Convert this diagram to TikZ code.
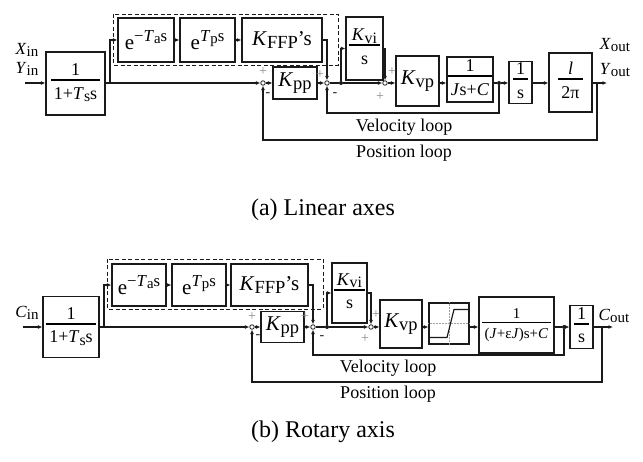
\documentclass[tikz,border=0pt]{standalone}
\usepackage{fontspec}
\setmainfont{Liberation Serif}
\usetikzlibrary{arrows.meta,calc}
\definecolor{Ink}{HTML}{1A1A1A}
\definecolor{SignGray}{HTML}{8A8A8A}
\definecolor{GridGray}{HTML}{A0A0A0}
\newcommand\subx[1]{\raisebox{-0.3ex}{\scalebox{0.88}{#1}}}
\newcommand\supx[1]{\raisebox{0.8ex}{\scalebox{0.8}{#1}}}
\newcommand\frc[2]{\begin{tabular}{@{\,}c@{\,}}#1\\[-2pt]\hline\rule{0pt}{1.0em}#2\end{tabular}}
\tikzset{
  block/.style={
    draw=Ink, line width=1.1pt, fill=white, inner sep=0pt, align=center,
    font=\fontsize{21}{23}\selectfont
  },
  ratio/.style={block, font={\fontsize{18}{19}\selectfont\setlength\arrayrulewidth{1.8pt}}},
  boxsize/.style 2 args={minimum width=#1pt, minimum height=#2pt},
  junction/.style={
    circle, draw=Ink, fill=white, line width=0.8pt,
    inner sep=0pt, minimum size=4.5pt
  },
  tap/.style={circle, fill=Ink, inner sep=0pt, minimum size=4pt},
  sig/.style={-{Latex[length=4.5pt,width=4pt]}, line width=1.1pt, draw=Ink},
  mainsig/.style={sig, line width=1.6pt},
  wire/.style={line width=1.1pt, draw=Ink},
  feedback/.style={-{Latex[length=4.5pt,width=4pt]}, line width=1.6pt, draw=Ink},
  ffbox/.style={draw=Ink, line width=0.9pt, dash pattern=on 4pt off 2.5pt},
  plus/.style={text=SignGray, font=\fontsize{14}{14}\selectfont, inner sep=0pt},
  minus/.style={text=Ink, font=\fontsize{14}{14}\selectfont, inner sep=0pt},
  looplabel/.style={font=\fontsize{18}{19}\selectfont, inner sep=0pt},
  io/.style={font=\fontsize{17}{19}\selectfont, inner sep=0pt},
  caption/.style={font=\fontsize{24}{26}\selectfont, inner sep=0pt}
}

\begin{document}
\begin{tikzpicture}[x=1pt, y=-1pt]
        \useasboundingbox (0,0) rectangle (643,462);
        % (a) linear axes
        \draw[ffbox] (113,14) rectangle (338,65);
        \node[ratio, boxsize={59}{63}] (preA) at (75.5,83.5) {\frc{1}{1+\textit{T}\subx{s}s}};
        \node[block, boxsize={56}{44}] (lagA) at (146,40) {e\supx{−\textit{T}\subx{a}s}};
        \node[block, boxsize={55}{44}] (leadA) at (207.5,40) {e\supx{\textit{T}\subx{p}s}};
        \node[block, boxsize={80}{44}] (ffpA) at (282,40) {\textit{K}\subx{FFP}'s};
        \node[block, boxsize={44}{32}] (kppA) at (295,83) {\textit{K}\subx{pp}};
        \node[ratio, boxsize={37}{63}] (kviA) at (364.5,48.5) {\frc{\textit{K}\subx{vi}}{s}};
        \node[block, boxsize={43}{50}] (kvpA) at (417.5,81) {\textit{K}\subx{vp}};
        \node[ratio, boxsize={46}{45}] (plantA) at (470,79.5) {\frc{1}{\textit{J}s+\textit{C}}};
        \node[ratio, boxsize={23}{41}] (intA) at (520.5,82.5) {\frc{1}{s}};
        \node[ratio, boxsize={43}{59}] (gearA) at (570.5,82.5) {\frc{\textit{l}}{2π}};
        \node[junction] (s1A) at (263,83) {};
        \node[junction] (s2A) at (327,83) {};
        \node[junction] (s3A) at (385,83) {};
        \node[tap] (t2A) at (341,83) {};
        \node[tap] (t3A) at (499,83) {};
        \coordinate (inA) at (25,83);
        \coordinate (brA) at (110,83);
        \coordinate (t4A) at (597,83);
        \coordinate (outA) at (607,83);
        \coordinate (velA) at (0,113);
        \coordinate (posA) at (0,140);
        \draw[sig] (inA) -- (preA.west |- inA);
        \draw[mainsig] (preA.east |- inA) -- (s1A);
        \draw[sig] (brA) |- (lagA);
        \draw[sig] (lagA) -- (leadA);
        \draw[sig] (leadA) -- (ffpA);
        \draw[sig] (ffpA.east) -| (s2A);
        \draw[sig] (s1A) -- (kppA);
        \draw[sig] (kppA) -- (s2A);
        \draw[wire] (s2A) -- (t2A);
        \draw[sig] (t2A) -- (s3A);
        \draw[sig] (t2A) |- (kviA);
        \draw[sig] (kviA.east) -| (s3A);
        \draw[sig] (s3A) -- (kvpA.west |- s3A);
        \draw[sig] (kvpA.east |- s3A) -- (plantA.west |- s3A);
        \draw[wire] (plantA.east |- s3A) -- (t3A);
        \draw[sig] (t3A) -- (intA.west |- s3A);
        \draw[sig] (intA.east |- s3A) -- (gearA.west |- s3A);
        \draw[sig] (gearA.east |- s3A) -- (outA);
        \draw[feedback] (t3A) -- (t3A |- velA) -| (s2A);
        \draw[feedback] (t4A) -- (t4A |- posA) -| (s1A);
        \node[plus] (p1A) at (263,72) {+};
        \node[minus] (m1A) at (268,95) {-};
        \node[plus] (p2A) at (320,75) {+};
        \node[minus] (m2A) at (335,95) {-};
        \node[plus] (p3A) at (392,72) {+};
        \node[plus] (p4A) at (380,97) {+};
        \node[io] (xinA) at (27,50) {\textit{X}\subx{in}};
        \node[io] (yinA) at (27,69) {\textit{Y}\subx{in}};
        \node[io] (xoutA) at (615,45) {\textit{X}\subx{out}};
        \node[io] (youtA) at (615,70) {\textit{Y}\subx{out}};
        \node[looplabel] (vlA) at (404,127) {Velocity loop};
        \node[looplabel] (plA) at (404,153) {Position loop};
        \node[caption] (capA) at (323,210) {(a) Linear axes};
        % (b) rotary axis
        \draw[ffbox] (107,259) rectangle (323,309);
        \node[ratio, boxsize={56}{61}] (preB) at (71,327) {\frc{1}{1+\textit{T}\subx{s}s}};
        \node[block, boxsize={54}{42}] (lagB) at (139,285) {e\supx{−\textit{T}\subx{a}s}};
        \node[block, boxsize={54}{42}] (leadB) at (199,285) {e\supx{\textit{T}\subx{p}s}};
        \node[block, boxsize={77}{42}] (ffpB) at (269.5,285) {\textit{K}\subx{FFP}'s};
        \node[block, boxsize={43}{31}] (kppB) at (282.5,327) {\textit{K}\subx{pp}};
        \node[ratio, boxsize={35}{60}] (kviB) at (349.5,293) {\frc{\textit{K}\subx{vi}}{s}};
        \node[block, boxsize={42}{48}] (kvpB) at (401,324) {\textit{K}\subx{vp}};
        \node[block, boxsize={40}{41}] (satB) at (449,323.5) {};
        \node[ratio, boxsize={75}{56}, font={\fontsize{15}{17}\selectfont\setlength\arrayrulewidth{1.8pt}}] (plantB) at (516.5,325) {\frc{1}{(\textit{J}+ε\textit{J})s+\textit{C}}};
        \node[ratio, boxsize={23}{41}] (intB) at (581.5,327) {\frc{1}{s}};
        \node[junction] (s1B) at (252,327) {};
        \node[junction] (s2B) at (313,327) {};
        \node[junction] (s3B) at (371,327) {};
        \node[tap] (t2B) at (327,327) {};
        \node[tap] (t3B) at (564,327) {};
        \coordinate (inB) at (23,327);
        \coordinate (brB) at (104,327);
        \coordinate (t4B) at (602,327);
        \coordinate (outB) at (613,327);
        \coordinate (velB) at (0,355);
        \coordinate (posB) at (0,382);
        \draw[GridGray, densely dotted, line width=0.5pt] (satB.north) -- (satB.south);
        \draw[GridGray, densely dotted, line width=0.5pt] (satB.west) -- (satB.east);
        \draw[wire] ($(satB.center)+(-19,14)$) -- ++(17,0) -- ++(7,-28) -- ++(14,0);
        \draw[sig] (inB) -- (preB.west |- inB);
        \draw[mainsig] (preB.east |- inB) -- (s1B);
        \draw[sig] (brB) |- (lagB);
        \draw[sig] (lagB) -- (leadB);
        \draw[sig] (leadB) -- (ffpB);
        \draw[sig] (ffpB.east) -| (s2B);
        \draw[sig] (s1B) -- (kppB);
        \draw[sig] (kppB) -- (s2B);
        \draw[wire] (s2B) -- (t2B);
        \draw[sig] (t2B) -- (s3B);
        \draw[sig] (t2B) |- (kviB);
        \draw[sig] (kviB.east) -| (s3B);
        \draw[sig] (s3B) -- (kvpB.west |- s3B);
        \draw[sig] (kvpB.east |- s3B) -- (satB.west |- s3B);
        \draw[sig] (satB.east |- s3B) -- (plantB.west |- s3B);
        \draw[wire] (plantB.east |- s3B) -- (t3B);
        \draw[sig] (t3B) -- (intB.west |- s3B);
        \draw[sig] (intB.east |- s3B) -- (outB);
        \draw[feedback] (t3B) -- (t3B |- velB) -| (s2B);
        \draw[feedback] (t4B) -- (t4B |- posB) -| (s1B);
        \node[plus] (p1B) at (252,317) {+};
        \node[minus] (m1B) at (258,337) {-};
        \node[plus] (p2B) at (305,317) {+};
        \node[minus] (m2B) at (322,338) {-};
        \node[plus] (p3B) at (376,315) {+};
        \node[plus] (p4B) at (365,339) {+};
        \node[io] (cinB) at (27,313) {\textit{C}\subx{in}};
        \node[io] (coutB) at (614,316) {\textit{C}\subx{out}};
        \node[looplabel] (vlB) at (388,368) {Velocity loop};
        \node[looplabel] (plB) at (388,394) {Position loop};
        \node[caption] (capB) at (323,432) {(b) Rotary axis};
      \end{tikzpicture}
\end{document}
